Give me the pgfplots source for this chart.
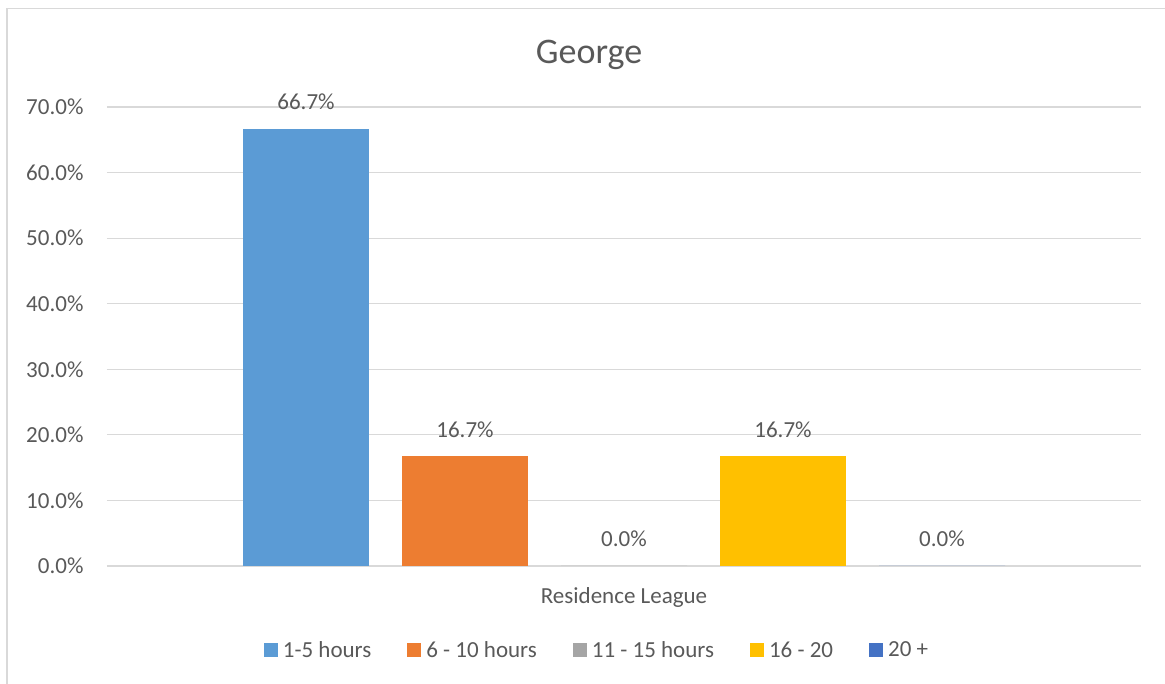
\documentclass[border=0pt]{standalone}
\usepackage{pgfplots}
\pgfplotsset{compat=1.18}
\usepackage{fontspec}
\setmainfont{Carlito}
\definecolor{txt}{HTML}{595959}
\definecolor{gridc}{HTML}{D9D9D9}
\definecolor{c1}{HTML}{5B9BD5}
\definecolor{c2}{HTML}{ED7D31}
\definecolor{c3}{HTML}{A5A5A5}
\definecolor{c4}{HTML}{FFC000}
\definecolor{c5}{HTML}{4472C4}
\begin{document}
\begin{tikzpicture}[x=1pt,y=1pt]
\path[use as bounding box] (-107,-118) rectangle (1058,566);
\draw[gridc, line width=1.5pt] (-100,-118) -- (-100,557.5) -- (1058,557.5);
\begin{axis}[
  at={(0,0)}, anchor=south west,
  scale only axis, width=1034pt, height=459pt,
  xmin=-1, xmax=1, ymin=0, ymax=70,
  ybar=33pt, bar width=126pt,
  axis line style={draw=none},
  tick style={draw=none},
  ymajorgrids, grid style={gridc, line width=1.2pt},
  ytick={0,10,...,70},
  xtick={0}, xticklabels={Residence League},
  major tick length=0pt,
  /pgf/number format/assume math mode=true,
  yticklabel={\pgfmathprintnumber[fixed,fixed zerofill,precision=1]{\tick}\%},
  ticklabel style={font=\fontsize{23}{27}\selectfont, text=txt},
  yticklabel style={anchor=east, xshift=-20pt},
  xticklabel style={anchor=center, yshift=-31pt},
  title={George},
  title style={font=\fontsize{36}{42}\selectfont, text=txt, at={(0.5,1)}, anchor=center, yshift=46pt, xshift=-35pt},
  nodes near coords={\pgfmathprintnumber[fixed,fixed zerofill,precision=1]{\pgfplotspointmeta}\%},
  nodes near coords style={font=\fontsize{23}{27}\selectfont, text=txt, anchor=center, yshift=27pt},
  legend columns=5,
  legend style={draw=none, fill=none, at={(0.5,0)}, anchor=center, yshift=-84pt, xshift=-27pt,
    font=\fontsize{23}{27}\selectfont, text=txt,
    /tikz/every odd column/.append style={column sep=3pt},
    /tikz/every even column/.append style={column sep=34pt}},
  legend image code/.code={\fill[#1] (0pt,-7pt) rectangle (14pt,7pt);},
]
\addplot[fill=c1, draw=none] coordinates {(0,66.7)};
\addplot[fill=c2, draw=none] coordinates {(0,16.7)};
\addplot[fill=c3, draw=none] coordinates {(0,0)};
\addplot[fill=c4, draw=none] coordinates {(0,16.7)};
\addplot[fill=c5, draw=none] coordinates {(0,0)};
\legend{1-5 hours, 6 - 10 hours, 11 - 15 hours, 16 - 20, 20 +}
\end{axis}
\end{tikzpicture}
\end{document}
